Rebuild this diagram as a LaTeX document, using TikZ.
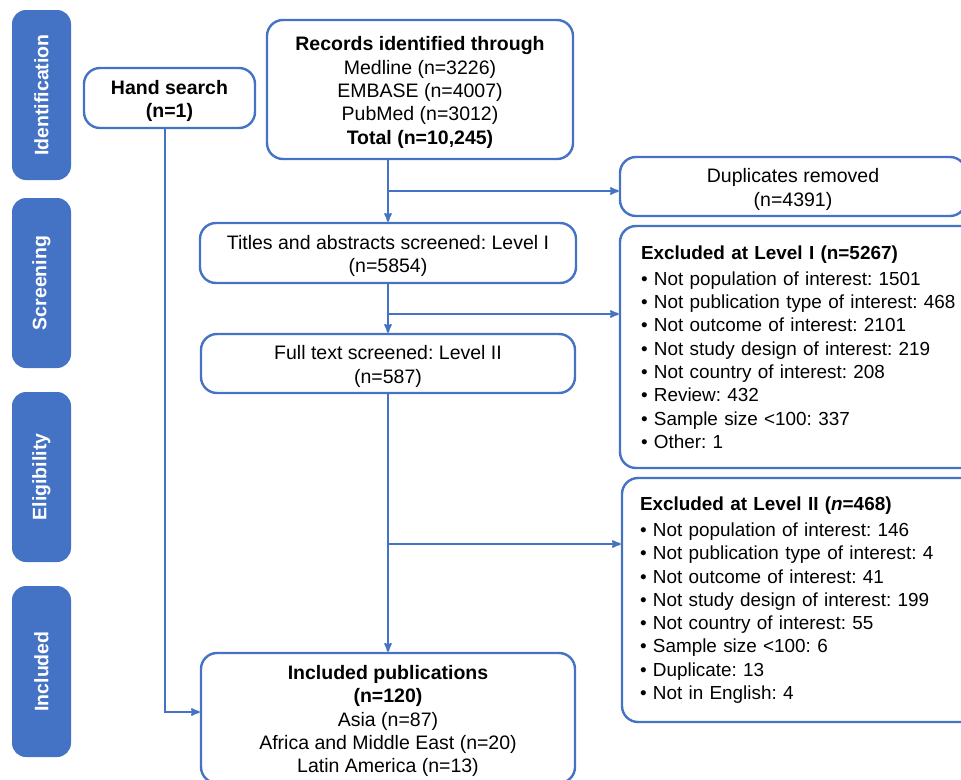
\documentclass[tikz,border=0pt]{standalone}
\usepackage{fontspec}
\setmainfont{Liberation Sans}
\usepackage{tikz}
\usetikzlibrary{positioning,arrows,calc}
\definecolor{myblue}{RGB}{68,114,196}
\newcommand\tstrut{\rule{0pt}{20.2pt}}
\frenchspacing
\tikzset{
  basic/.style  = {draw=myblue, line width=2.4pt, rounded corners=16pt, inner sep=0pt,
                   font=\fontsize{19.5}{23.4}\selectfont},
  box/.style    = {basic, align=center},
  list/.style   = {basic, align=left, text width=335pt, inner xsep=21pt,
                   font=\fontsize{18.9}{23.3}\selectfont},
  phase/.style  = {fill=myblue, draw=none, rounded corners=14pt, rotate=90, text=white,
                   minimum width=170pt, minimum height=59pt,
                   font=\fontsize{19.5}{23.4}\selectfont\bfseries},
  post/.style   = {->, >=stealth', line width=2pt, draw=myblue}
}

\begin{document}
\begin{tikzpicture}[x=1pt, y=-1pt]
  \useasboundingbox (0,0) rectangle (961,779);
  \clip (0,0) rectangle (961,779);
  \node[phase] (ident) at (41.5,95) {Identification};
  \node[phase] (screen) at (41.5,283) {Screening};
  \node[phase] (elig) at (41.5,477) {Eligibility};
  \node[phase, minimum width=171pt] (incphase) at (41.5,671.5) {Included};

  \node[box, minimum width=171pt, minimum height=60pt] (hand) at (169.5,98)
        {\tstrut\textbf{Hand search}\\\textbf{(n=1)}};
  \node[box, minimum width=306pt, minimum height=139pt] (records) at (420,89.5)
        {\tstrut\textbf{Records identified through}\\Medline (n=3226)\\EMBASE (n=4007)\\
         PubMed (n=3012)\\\textbf{Total (n=10,245)}};
  \node[box, minimum width=376pt, minimum height=60pt] (titles) at (388,253)
        {\tstrut Titles and abstracts screened: Level I\\(n=5854)};
  \node[box, minimum width=374pt, minimum height=59pt] (fulltext) at (388,363.5)
        {\tstrut Full text screened: Level II\\(n=587)};
  \node[box, minimum width=374pt, minimum height=130pt] (incl) at (388,718)
        {\tstrut\textbf{Included publications}\\\textbf{(n=120)}\\Asia (n=87)\\
         Africa and Middle East (n=20)\\Latin America (n=13)};
  \node[box, minimum width=346pt, minimum height=59pt] (dupl) at (793,186.5)
        {\tstrut Duplicates removed\\(n=4391)};
  \node[list, minimum height=242pt] (exclI) at (808.5,347)
        {\textbf{Excluded at Level I (n=5267)}\\[3pt]
         \textbullet{} Not population of interest: 1501\\
         \textbullet{} Not publication type of interest: 468\\
         \textbullet{} Not outcome of interest: 2101\\
         \textbullet{} Not study design of interest: 219\\
         \textbullet{} Not country of interest: 208\\
         \textbullet{} Review: 432\\
         \textbullet{} Sample size <100: 337\\
         \textbullet{} Other: 1};
  \node[list, inner xsep=18pt, minimum height=244pt] (exclII) at (807.5,600)
        {\textbf{Excluded at Level II (\textit{n}=468)}\\[3pt]
         \textbullet{} Not population of interest: 146\\
         \textbullet{} Not publication type of interest: 4\\
         \textbullet{} Not outcome of interest: 41\\
         \textbullet{} Not study design of interest: 199\\
         \textbullet{} Not country of interest: 55\\
         \textbullet{} Sample size <100: 6\\
         \textbullet{} Duplicate: 13\\
         \textbullet{} Not in English: 4};

  \coordinate (b1) at ($(records.south -| titles.north)!0.5!(titles.north)$);
  \coordinate (b2) at (388,314);
  \coordinate (b3) at (388,544);
  \draw[post] (records.south -| titles.north) -- (titles.north);
  \draw[post] (b1) -- (b1 -| dupl.west);
  \draw[post] (titles.south) -- (fulltext.north);
  \draw[post] (b2) -- (b2 -| exclI.west);
  \draw[post] (fulltext.south) -- (incl.north);
  \draw[post] (b3) -- (b3 -| exclII.west);
  \draw[post] ([xshift=-4.5pt]hand.south) |- ([yshift=6pt]incl.west);
\end{tikzpicture}
\end{document}
